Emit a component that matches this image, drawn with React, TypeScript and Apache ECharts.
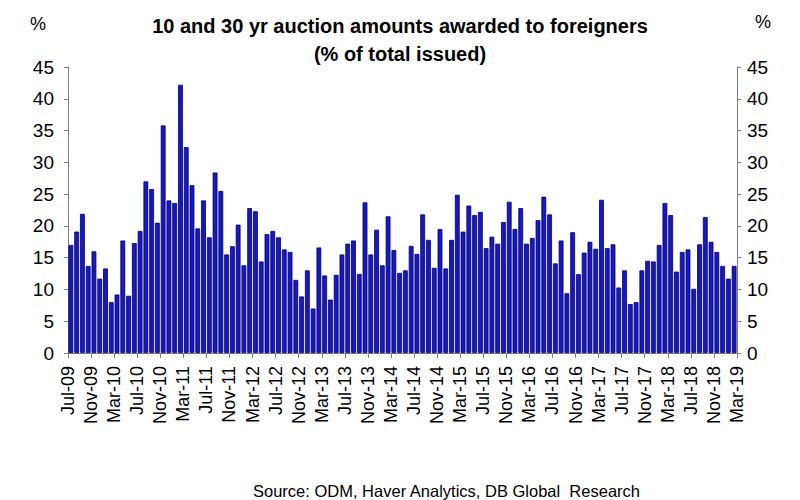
import React, { useEffect, useRef } from "react";
import * as echarts from "echarts";

// Monthly share (%) of 10 and 30 yr auction amounts awarded to foreigners, Jul-09 .. Feb-19
const values2009to2012 = [
  17.0, 19.1, 21.9, 13.7, 16.0, 11.7, 13.3, 8.0, 9.2, 17.7, 9.0, 17.3, 19.2, 27.0, 25.8,
  20.5, 35.8, 24.0, 23.6, 42.2, 32.4, 26.4, 19.6, 24.0, 18.2, 28.4, 25.5, 15.5, 16.8, 20.2,
  13.8, 22.8, 22.3, 14.4, 18.7, 19.2, 18.2,
];
const values2012to2015 = [
  16.3, 15.9, 11.5, 8.9, 13.0, 7.0, 16.6, 12.2, 8.4, 12.3, 15.5, 17.2, 17.7, 12.45, 23.7,
  15.5, 19.4, 13.8, 21.5, 16.2, 12.6, 13.0, 16.85, 15.6, 21.8, 17.8, 13.4, 19.5, 13.3, 17.8,
  24.9, 19.1, 23.2, 21.7, 22.2, 16.5, 18.3, 17.2, 20.6,
];
const values2015to2019 = [
  23.8, 19.5, 22.8, 17.2, 18.1, 20.9, 24.6, 21.8, 14.1, 17.7, 9.4, 19.0, 12.4, 15.8, 17.5,
  16.4, 24.1, 16.5, 17.1, 10.3, 13.0, 7.7, 8.0, 13.0, 14.5, 14.4, 17.0, 23.6, 21.7, 12.8,
  15.9, 16.3, 10.1, 17.1, 21.4, 17.5, 15.9, 13.7, 11.7, 13.7,
];
const values = [...values2009to2012, ...values2012to2015, ...values2015to2019];

const tickLabels = [
  "Jul-09", "Nov-09", "Mar-10", "Jul-10", "Nov-10", "Mar-11", "Jul-11", "Nov-11",
  "Mar-12", "Jul-12", "Nov-12", "Mar-13", "Jul-13", "Nov-13", "Mar-14", "Jul-14",
  "Nov-14", "Mar-15", "Jul-15", "Nov-15", "Mar-16", "Jul-16", "Nov-16", "Mar-17",
  "Jul-17", "Nov-17", "Mar-18", "Jul-18", "Nov-18", "Mar-19",
];
const monthsPerTick = 4;

const titleLine1 = "10 and 30 yr auction amounts awarded to foreigners";
const titleLine2 = "(% of total issued)";
const sourceText = "Source: ODM, Haver Analytics, DB Global  Research";

const FONT = "'Liberation Sans', Arial, Helvetica, sans-serif";

export default function App() {
  const ref = useRef<HTMLDivElement>(null);
  useEffect(() => {
    document.body.style.margin = "0";
    if (!ref.current) return;
    const chart = echarts.init(ref.current, undefined, { renderer: "svg" });
    const axisGray = "#7f7f7f";
    const yAxisCommon = {
      type: "value" as const,
      min: 0,
      max: 45,
      interval: 5,
      splitLine: { show: false },
      axisLine: { show: true, lineStyle: { color: axisGray, width: 1 } },
      axisTick: { show: true, length: 4, lineStyle: { color: axisGray } },
    };
    chart.setOption({
      animation: false,
      backgroundColor: "#ffffff",
      textStyle: { fontFamily: FONT },
      title: {
        text: titleLine1 + "\n" + titleLine2,
        left: "center",
        top: 7,
        textStyle: {
          fontFamily: FONT,
          fontSize: 20,
          fontWeight: "bold",
          color: "#000",
          lineHeight: 28,
        },
      },
      grid: { left: 68, right: 63, top: 67, bottom: 147, containLabel: false },
      xAxis: {
        type: "value",
        min: 0,
        max: values.length,
        interval: monthsPerTick,
        splitLine: { show: false },
        axisLine: { show: true, lineStyle: { color: axisGray } },
        axisTick: { show: true, length: 5, lineStyle: { color: axisGray } },
        axisLabel: {
          rotate: 90,
          fontSize: 18,
          color: "#000",
          fontFamily: FONT,
          margin: 13,
          padding: [9, 0, 0, 0],
          formatter: (v: number) => tickLabels[Math.round(v / monthsPerTick)] ?? "",
        },
      },
      yAxis: [
        {
          ...yAxisCommon,
          position: "left",
          axisLabel: { fontSize: 19, color: "#000", fontFamily: FONT, margin: 14 },
        },
        {
          ...yAxisCommon,
          position: "right",
          axisLabel: { fontSize: 19, color: "#000", fontFamily: FONT, margin: 10 },
        },
      ],
      series: [
        {
          type: "bar",
          yAxisIndex: 0,
          barWidth: 4.8,
          data: values.map((v, i) => [i + 0.5, v]),
          itemStyle: { color: "#1818c0", borderColor: "#000070", borderWidth: 0.8 },
        },
      ],
      graphic: [
        {
          type: "text",
          left: 30,
          top: 15,
          style: { text: "%", font: `18px ${FONT}`, fill: "#000" },
        },
        {
          type: "text",
          left: 755,
          top: 13,
          style: { text: "%", font: `18px ${FONT}`, fill: "#000" },
        },
        {
          type: "text",
          left: 253,
          top: 482,
          style: { text: sourceText, font: `16.5px ${FONT}`, fill: "#000" },
        },
      ],
    });
    return () => chart.dispose();
  }, []);
  return <div ref={ref} style={{ width: 800, height: 500 }} />;
}
